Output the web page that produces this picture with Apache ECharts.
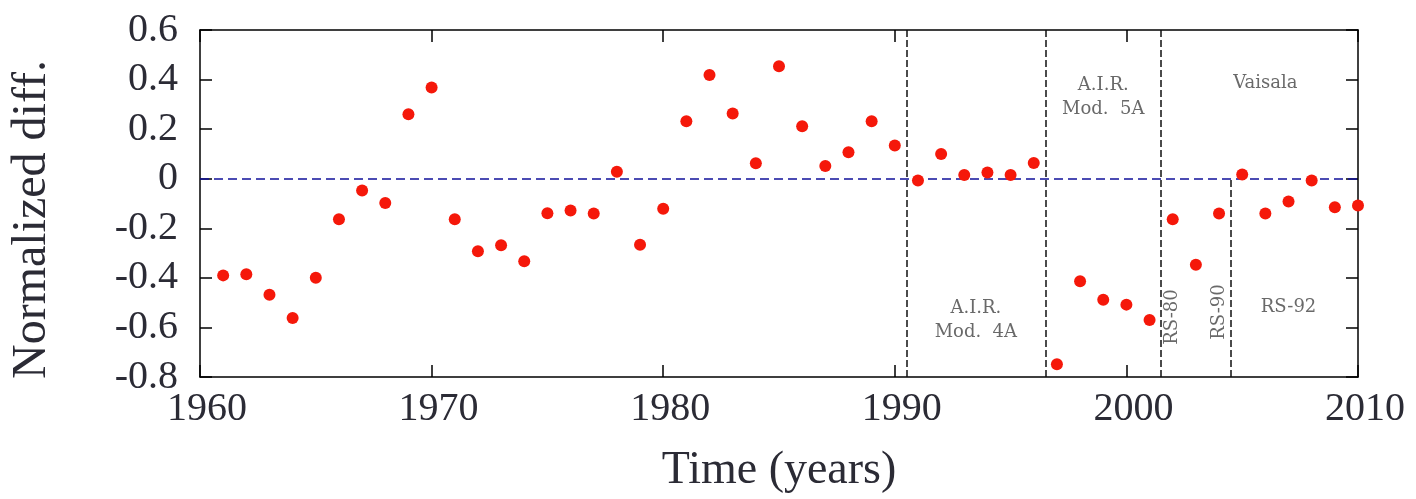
<!DOCTYPE html>
<html>
<head>
<meta charset="utf-8">
<script src="https://cdn.jsdelivr.net/npm/echarts@6/dist/echarts.min.js"></script>
<style>
  html, body { margin: 0; padding: 0; background: #fff; }
  #chart { width: 1416px; height: 499px; }
</style>
</head>
<body>
<div id="chart"></div>
<script>
// years and normalized differences
const years = [1961, 1962, 1963, 1964, 1965, 1966, 1967, 1968, 1969, 1970,
  1971, 1972, 1973, 1974, 1975, 1976, 1977, 1978, 1979, 1980,
  1981, 1982, 1983, 1984, 1985, 1986, 1987, 1988, 1989, 1990,
  1991, 1992, 1993, 1994, 1995, 1996, 1997, 1998, 1999, 2000,
  2001, 2002, 2003, 2004, 2005, 2006, 2007, 2008, 2009, 2010];
const diffs = [-0.39, -0.385, -0.468, -0.562, -0.40, -0.164, -0.048, -0.098, 0.26, 0.368,
  -0.164, -0.293, -0.268, -0.333, -0.139, -0.128, -0.14, 0.028, -0.266, -0.121,
  0.232, 0.418, 0.263, 0.062, 0.454, 0.212, 0.051, 0.107, 0.232, 0.134,
  -0.007, 0.1, 0.015, 0.025, 0.015, 0.063, -0.749, -0.414, -0.488, -0.508,
  -0.57, -0.164, -0.347, -0.14, 0.017, -0.14, -0.092, -0.007, -0.115, -0.108];

// instrument changes (full height) and the partial one (RS-90 -> RS-92)
const fullBreaks = [1990.5, 1996.5, 2001.5];
const partialBreak = [2004.5, -0.8, 0];

// annotation texts: [year, value, text, rotation]
const notes = [
  [1993.5, -0.571, 'A.I.R.\nMod.  4A', 0],
  [1999.0, 0.33, 'A.I.R.\nMod.  5A', 0],
  [2006.0, 0.384, 'Vaisala', 0],
  [2002.0, -0.558, 'RS-80', 90],
  [2004.0, -0.538, 'RS-90', 90],
  [2007.0, -0.52, 'RS-92', 0]
];

const xTicks = { min: 1960, max: 2010, interval: 10 };
const yTicks = { min: -0.8, max: 0.6, interval: 0.2 };

const serif = 'Liberation Serif';
const chart = echarts.init(document.getElementById('chart'));

const tick = { show: true, inside: true, length: 12, lineStyle: { color: '#000', width: 1.5 } };
const line = { show: true, onZero: false, lineStyle: { color: '#000', width: 1.5 } };

const option = {
  backgroundColor: '#fff',
  animation: false,
  grid: { left: 199, top: 30, right: 58, bottom: 122 },
  xAxis: [{
    type: 'value', min: xTicks.min, max: xTicks.max, interval: xTicks.interval,
    axisLine: line, axisTick: tick, splitLine: { show: false },
    axisLabel: {
      fontFamily: serif, fontSize: 40, color: '#2b2b35', margin: 12,
      padding: [0, 0, 0, 14], formatter: v => String(v)
    },
    name: 'Time (years)', nameLocation: 'middle', nameGap: 71,
    nameTextStyle: { fontFamily: serif, fontSize: 46, color: '#2b2b35' }
  }, {
    type: 'value', position: 'top', min: xTicks.min, max: xTicks.max, interval: xTicks.interval,
    axisLine: line, axisTick: tick, axisLabel: { show: false }, splitLine: { show: false }
  }],
  yAxis: [{
    type: 'value', min: yTicks.min, max: yTicks.max, interval: yTicks.interval,
    axisLine: line, axisTick: tick, splitLine: { show: false },
    axisLabel: {
      fontFamily: serif, fontSize: 40, color: '#2b2b35', margin: 22,
      formatter: v => (Math.abs(v) < 1e-9 ? '0' : v.toFixed(1))
    },
    name: 'Normalized diff.', nameLocation: 'middle', nameGap: 144, nameRotate: 90,
    nameTextStyle: { fontFamily: serif, fontSize: 48, color: '#2b2b35', padding: [0, 32, 0, 0] }
  }, {
    type: 'value', position: 'right', min: yTicks.min, max: yTicks.max, interval: yTicks.interval,
    axisLine: line, axisTick: tick, axisLabel: { show: false }, splitLine: { show: false }
  }],
  series: [{
    type: 'scatter',
    data: years.map((y, i) => [y, diffs[i]]),
    symbolSize: 12,
    itemStyle: { color: '#f5180a', opacity: 1 },
    z: 5,
    markLine: {
      silent: true, symbol: 'none', label: { show: false },
      data: [
        { yAxis: 0, lineStyle: { color: '#10109a', type: [9, 5], width: 1.7 } },
        ...fullBreaks.map(b => ({ xAxis: b, lineStyle: { color: '#111', type: [7, 3], width: 1.5 } })),
        [
          { coord: [partialBreak[0], partialBreak[1]], lineStyle: { color: '#111', type: [7, 3], width: 1.5 } },
          { coord: [partialBreak[0], partialBreak[2]] }
        ]
      ]
    }
  }, {
    type: 'scatter',
    silent: true,
    symbolSize: 0,
    data: notes.map(n => ({
      value: [n[0], n[1]],
      label: { rotate: n[3] }
    })),
    label: {
      show: true, position: 'inside',
      formatter: p => notes[p.dataIndex][2],
      fontFamily: 'DejaVu Serif', fontSize: 18, lineHeight: 24, color: '#444', align: 'center'
    },
    z: 4
  }]
};

chart.setOption(option);
</script>
</body>
</html>
